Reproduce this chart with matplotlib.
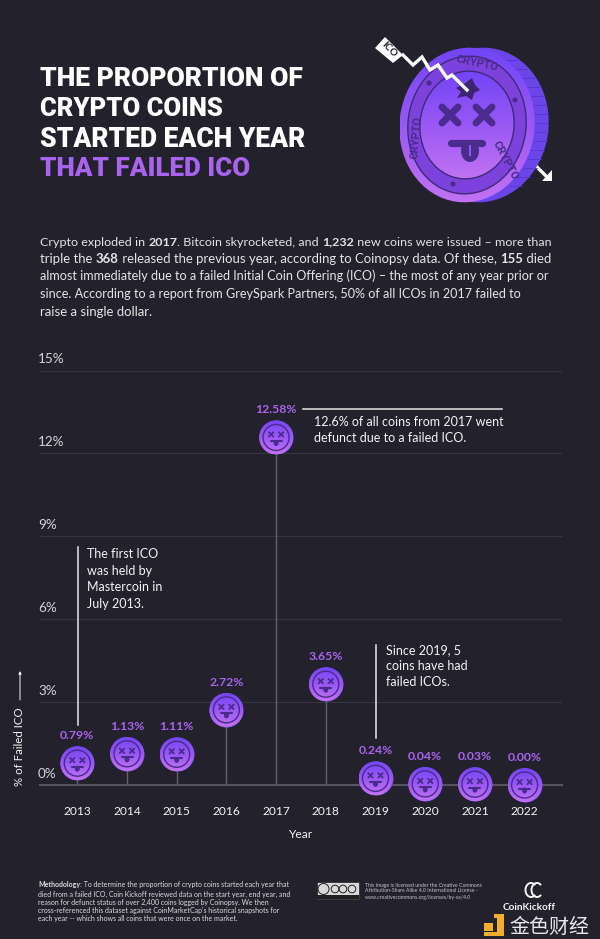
"""
plot.py
The proportion of crypto coins started each year that failed ICO.
"""
import numpy as np
import matplotlib
matplotlib.use("Agg")
import matplotlib.pyplot as plt
from matplotlib.patches import Arc, Circle, Ellipse, Polygon, Rectangle
from matplotlib.colors import LinearSegmentedColormap

YEARS = [2013, 2014, 2015, 2016, 2017, 2018, 2019, 2020, 2021, 2022]
FAILED_PCT = [0.79, 1.13, 1.11, 2.72, 12.58, 3.65, 0.24, 0.04, 0.03, 0.00]
VALUE_LABELS = ["0.79%", "1.13%", "1.11%", "2.72%", "12.58%", "3.65%", "0.24%", "0.04%", "0.03%", "0.00%"]
Y_TICKS = [0, 3, 6, 9, 12, 15]

TITLE_LINES = ["THE PROPORTION OF", "CRYPTO COINS", "STARTED EACH YEAR", "THAT FAILED ICO"]

# (text, bold) runs per line
BODY = [
    [("Crypto exploded in ", 0), ("2017", 1), (". Bitcoin skyrocketed, and ", 0), ("1,232", 1),
     (" new coins were issued – more than", 0)],
    [("triple the ", 0), ("368", 1), (" released the previous year, according to Coinopsy data. Of these, ", 0),
     ("155", 1), (" died", 0)],
    [("almost immediately due to a failed Initial Coin Offering (ICO) – the most of any year prior or", 0)],
    [("since. According to a report from GreySpark Partners, 50% of all ICOs in 2017 failed to", 0)],
    [("raise a single dollar.", 0)],
]

METHOD = [
    [("Methodology:", 1), (" To determine the proportion of crypto coins started each year that", 0)],
    [("died from a failed ICO, Coin Kickoff reviewed data on the start year, end year, and", 0)],
    [("reason for defunct status of over 2,400 coins logged by Coinopsy. We then", 0)],
    [("cross-referenced this dataset against CoinMarketCap's historical snapshots for", 0)],
    [("each year -- which shows all coins that were once on the market.", 0)],
]
LICENSE = [
    "This image is licensed under the Creative Commons",
    "Attribution-Share Alike 4.0 International License -",
    "www.creativecommons.org/licenses/by-sa/4.0",
]

BG = "#22212c"
PURPLE = "#a964ee"
WHITE = "#f4f4f4"
DARK = "#4a2a8c"
COIN_DARK = "#4b2b8e"
FONT = "Lato"

plt.rcParams["font.family"] = [FONT, "DejaVu Sans"]

fig = plt.figure(figsize=(6.0, 9.39), dpi=100, facecolor=BG)
PX = 0.72  # pixels to points


def fig_box(x0, y_top, x1, y_bottom):
    return [x0 / 600, 1 - y_bottom / 939, (x1 - x0) / 600, (y_bottom - y_top) / 939]


# chart axes: 0% sits on y=785 and 15% on y=370.6
ax = fig.add_axes(fig_box(40, 370.6, 562, 785))
ax.set_facecolor("none")
ax.set_xlim(2013 - (77.3 - 40) / 49.7, 2013 + (562 - 77.3) / 49.7)
ax.set_ylim(0, 15)
for s in ax.spines.values():
    s.set_visible(False)
ax.spines["bottom"].set_visible(True)
ax.spines["bottom"].set_color("#55555f")
ax.spines["bottom"].set_linewidth(1.5)
ax.set_yticks(Y_TICKS)
ax.set_yticklabels([])
ax.set_xticks(YEARS)
ax.set_xticklabels([str(y) for y in YEARS], color=WHITE, fontsize=12 * PX)
ax.tick_params(axis="both", length=0)
ax.tick_params(axis="x", pad=21 * PX)
ax.grid(axis="y", color="#36363f", linewidth=0.8)
ax.set_axisbelow(True)

for t in Y_TICKS:
    ax.annotate(f"{t}%", (0, t), xycoords=("axes fraction", "data"), xytext=(-2 * PX, 5.5 * PX),
                textcoords="offset points", color="#d4d4d8", fontsize=13.5 * PX,
                va="bottom", ha="left")

ax.vlines(YEARS, 0, FAILED_PCT, color="#62626b", linewidth=1.0, zorder=2)
ax.scatter(YEARS, FAILED_PCT, s=(34 * PX) ** 2, color="#8f56f4", linewidths=0, zorder=3, clip_on=False)

# overlay in plain pixel coordinates for the drawn artwork and the text
ov = fig.add_axes([0, 0, 1, 1], zorder=5)
ov.set_facecolor("none")
ov.set_xlim(0, 600)
ov.set_ylim(939, 0)
ov.axis("off")
ov.set_autoscale_on(False)

renderer = fig.canvas.get_renderer()

grad = LinearSegmentedColormap.from_list("coin", ["#7245f6", "#9a58f4", "#c072f2"])
ramp = np.linspace(0, 1, 64).reshape(-1, 1)


def to_px(x, y):
    return ov.transData.inverted().transform(ax.transData.transform((x, y)))


def gradient_patch(patch, extent, zorder, cmap=grad):
    ov.add_patch(patch)
    patch.set_zorder(zorder)
    im = ov.imshow(ramp, extent=extent, cmap=cmap, aspect="auto", zorder=zorder, interpolation="bilinear")
    im.set_clip_path(patch)


def cross(cx, cy, r, lw, z=8, color=DARK):
    ov.plot([cx - r, cx + r], [cy - r, cy + r], color=color, lw=lw, solid_capstyle="round", zorder=z)
    ov.plot([cx - r, cx + r], [cy + r, cy - r], color=color, lw=lw, solid_capstyle="round", zorder=z)


def draw_face(cx, cy):
    gradient_patch(Circle((cx, cy), 17, fc="none", ec="none"), [cx - 17, cx + 17, cy + 17, cy - 17], 6)
    ov.add_patch(Circle((cx, cy), 13, fc="none", ec=DARK, lw=1.0, zorder=8))
    cross(cx - 5, cy - 3, 2.2, 1.3)
    cross(cx + 5, cy - 3, 2.2, 1.3)
    ov.plot([cx - 5.5, cx + 5.5], [cy + 3.5, cy + 3.5], color=DARK, lw=1.5, solid_capstyle="round", zorder=8)
    ov.add_patch(Ellipse((cx, cy + 5.5), 5, 6, fc=DARK, ec="none", zorder=8))


for year, val, lab in zip(YEARS, FAILED_PCT, VALUE_LABELS):
    cx, cy = to_px(year, val)
    draw_face(cx, cy)
    ov.text(cx, cy - 27.5, lab, color=PURPLE, fontsize=12.3 * PX, fontweight="bold",
            ha="center", va="center", zorder=9)


def draw_runs(x, y, runs, size, color, target=None):
    """Lay out runs of regular and bold text on one baseline, fitted to a right edge."""
    for attempt in range(2):
        items = []
        cur = x
        for txt, b in runs:
            t = ov.text(cur, y, txt, color=color, fontsize=size, fontweight="bold" if b else "normal",
                        va="baseline", ha="left", zorder=9)
            t.set_parse_math(False)
            cur += t.get_window_extent(renderer).width
            items.append(t)
        if target is None:
            break
        if attempt == 0:
            size *= (target - x) / (cur - x)
            for t in items:
                t.remove()
    return cur


# title, each line fitted to the width it has in the picture
TITLE_ENDS = [303, 223, 306, 250]
for i, (line, y, end) in enumerate(zip(TITLE_LINES, [86, 116, 147, 176], TITLE_ENDS)):
    c = PURPLE if i == 3 else "#ffffff"
    t = ov.text(40, y, line, color=c, fontsize=26 * PX, fontweight="black", family=["Roboto", "DejaVu Sans"],
                va="baseline", ha="left", zorder=9)
    t.set_fontsize(t.get_fontsize() * (end - 40) / t.get_window_extent(renderer).width)

# body paragraph
BODY_ENDS = [551, 551, 548, 524, 153]
for runs, y, end in zip(BODY, [245.5, 263, 280.5, 298.5, 316], BODY_ENDS):
    draw_runs(40, y, runs, 12.6 * PX, "#e4e4e6", target=end)

# callouts
ov.plot([78, 78], [547, 725], color="#e8e8ea", lw=1.1, zorder=4)
for line, y in zip(["The first ICO", "was held by", "Mastercoin in", "July 2013."], [558, 575, 591, 608]):
    ov.text(87, y, line, color=WHITE, fontsize=12.5 * PX, va="baseline", zorder=9)
ov.plot([376, 376], [645, 738], color="#e8e8ea", lw=1.1, zorder=4)
for line, y in zip(["Since 2019, 5", "coins have had", "failed ICOs."], [654, 670, 686]):
    ov.text(386, y, line, color=WHITE, fontsize=12.5 * PX, va="baseline", zorder=9)
ov.plot([303, 502], [409, 409], color="#e8e8ea", lw=1.1, zorder=4)
for line, y in zip(["12.6% of all coins from 2017 went", "defunct due to a failed ICO."], [426.5, 442.5]):
    ov.text(314, y, line, color=WHITE, fontsize=12.5 * PX, va="baseline", zorder=9)

# axis titles
ov.text(300, 835, "Year", color=WHITE, fontsize=12 * PX, ha="center", va="center", zorder=9)
ov.text(20, 747, "% of Failed ICO", color=WHITE, fontsize=11.5 * PX, rotation=90, ha="center", va="center", zorder=9)
ov.annotate("", xy=(20, 671), xytext=(20, 700),
            arrowprops=dict(arrowstyle="-|>", color=WHITE, lw=0.7, mutation_scale=4, shrinkA=0, shrinkB=0))

# coin artwork
ov.add_patch(Ellipse((481, 125), 135, 155, angle=8, fc="#6b45ea", ec="none", zorder=2))
for yy in np.arange(60, 195, 9):
    half = 67 * np.sqrt(max(0, 1 - ((yy - 125) / 77) ** 2))
    ov.plot([481 + half - 13, 481 + half], [yy, yy], color="#5636c6", lw=0.6, zorder=2)
gradient_patch(Ellipse((467, 125), 135, 155, angle=8, fc="none", ec="none"), [400, 535, 203, 47], 3)
ov.add_patch(Ellipse((467, 125), 118, 138, angle=8, fc="#7d42dc", ec="#3f2a78", lw=1.0, zorder=4))
gradient_patch(Ellipse((467, 125), 94, 108, angle=8, fc="none", ec="none"), [420, 514, 179, 71], 5)
ov.add_patch(Ellipse((467, 125), 94, 108, angle=8, fc="none", ec="#3f2a78", lw=1.0, zorder=6))
for pt in [(429, 83), (515, 100), (453, 184)]:
    ov.add_patch(Circle(pt, 2.6, fc=DARK, ec="none", zorder=6))
cross(450, 115, 8, 5, z=7, color=COIN_DARK)
cross(484, 115, 8, 5, z=7, color=COIN_DARK)
ov.plot([451, 482], [143, 143], color=COIN_DARK, lw=5.2, solid_capstyle="round", zorder=7)
ov.add_patch(Ellipse((470, 151), 18, 22, fc=COIN_DARK, ec="none", zorder=7))
ov.add_patch(Rectangle((468.6, 145), 2.8, 11, fc="#8a55f4", ec="none", zorder=7))
for word, x, y, rot in [("CRYPTO", 477, 64, -12), ("CRYPTO", 416, 137, 85), ("CRYPTO", 505, 160, -62)]:
    ov.text(x, y, word, color=COIN_DARK, fontsize=11 * PX, fontweight="bold", family=["Roboto", "DejaVu Sans"],
            rotation=rot, rotation_mode="anchor", ha="center", va="center", zorder=7)

# falling ICO arrow with the impact splat
ov.add_patch(Polygon([(472, 78), (464, 84), (456, 88), (461, 92), (457, 98), (466, 96), (472, 100), (474, 93),
                      (480, 90), (475, 85)], fc="#3b2570", ec="none", zorder=7))
ov.plot([403, 413, 422, 430, 438, 447, 452, 467], [55, 65, 57, 70, 65, 78, 75, 90],
        color="white", lw=2.4, solid_joinstyle="miter", zorder=8)
ov.add_patch(Polygon([(375, 48), (385, 37), (403, 55), (393, 63)], fc="white", ec="none", zorder=8))
ov.text(389, 50, "ICO", color="#22212c", fontsize=10 * PX, fontweight="bold", rotation=-46,
        rotation_mode="anchor", ha="center", va="center", zorder=9)
ov.plot([537, 548], [167, 178], color="white", lw=2.4, zorder=1)
ov.add_patch(Polygon([(552, 170), (552, 181), (542, 181)], fc="white", ec="none", zorder=8))

# methodology
for runs, y in zip(METHOD, [887.5, 896.5, 904.5, 913, 921.5]):
    draw_runs(38, y, runs, 7.05 * PX, "#dcdcde")

# licence badge
ov.add_patch(Rectangle((316.5, 882), 42.5, 17, fc="#d8d8da", ec="#202020", lw=0.5, zorder=6))
ov.add_patch(Rectangle((316.5, 895), 42.5, 4, fc="#202020", ec="none", zorder=7))
for cx, r in [(323.5, 5.5), (335, 3.8), (343, 3.8), (352, 3.8)]:
    ov.add_patch(Circle((cx, 889), r, fc="#d8d8da", ec="#202020", lw=0.7, zorder=8))
for line, y in zip(LICENSE, [886.5, 892.5, 898.5]):
    ov.text(365, y, line, color="#c5c5c8", fontsize=5.1 * PX, va="baseline", zorder=9)

# logos
for cx in [531, 537]:
    ov.add_patch(Arc((cx, 890), 11, 14, theta1=50, theta2=310, ec=WHITE, lw=1.4, zorder=9))
ov.text(529, 907, "CoinKickoff", color=WHITE, fontsize=10 * PX, fontweight="bold", ha="center", va="center", zorder=9)
gold = "#f2ae2c"
ov.add_patch(Rectangle((484, 923), 9, 8, fc=gold, ec="none", zorder=9))
ov.add_patch(Polygon([(494, 914), (504, 914), (504, 936), (484, 936), (484, 932), (497, 932), (497, 918), (494, 918)],
                     fc=gold, ec="none", zorder=9))
ov.text(549, 927, "金色财经", color="#e8e8ea", fontsize=20 * PX, family=["Noto Sans CJK SC", "DejaVu Sans"],
        ha="center", va="center", zorder=9)

fig.savefig("out.png", dpi=100, facecolor=BG)
